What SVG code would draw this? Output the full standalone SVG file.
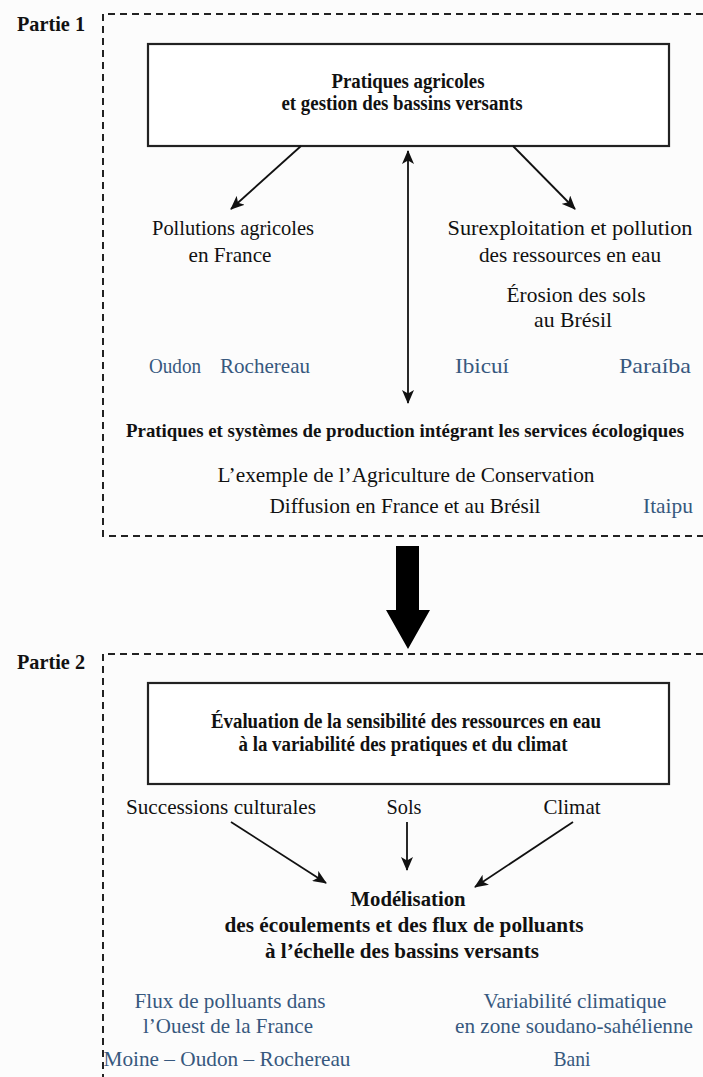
<svg xmlns="http://www.w3.org/2000/svg" width="703" height="1077" viewBox="0 0 703 1077">
<style>
text{font-family:"Liberation Serif","Times New Roman",serif;fill:#111}
.t{font-size:22px;text-anchor:middle}
.b{font-size:20px;font-weight:bold;text-anchor:middle}
.lbl{font-size:21px;font-weight:bold}
.s{text-anchor:start}
.blue{fill:#37587e}
.frame{fill:none;stroke:#222;stroke-width:2;stroke-dasharray:7 5}
.box{fill:#fff;stroke:#222;stroke-width:2.2}
.arr{stroke:#111;stroke-width:1.8;fill:none}
</style>
<defs>
<marker id="ah" viewBox="0 0 14 12" refX="13" refY="6" markerWidth="14" markerHeight="12" markerUnits="userSpaceOnUse" orient="auto-start-reverse">
<path d="M0,0 L14,6 L0,12 L3.5,6 Z" fill="#111"/>
</marker>
</defs>
<rect width="703" height="1077" fill="#fcfcfc"/>
<g id="partie1">
<path class="frame" d="M703,14 H103 V536 H703"/>
<text class="lbl" x="17" y="31" textLength="68" lengthAdjust="spacingAndGlyphs">Partie 1</text>
</g>
<g id="partie2">
<path class="frame" d="M703,654 H103 V1077"/>
<text class="lbl" x="17" y="669" textLength="68" lengthAdjust="spacingAndGlyphs">Partie 2</text>
</g>
<g id="box1">
<rect class="box" x="148" y="44" width="521" height="102"/>
<text class="b" x="408" y="88" textLength="153" lengthAdjust="spacingAndGlyphs">Pratiques agricoles</text>
<text class="b" x="402" y="110" textLength="241" lengthAdjust="spacingAndGlyphs">et gestion des bassins versants</text>
</g>
<g id="pollutions">
<text class="t" x="233" y="235" textLength="162" lengthAdjust="spacingAndGlyphs">Pollutions agricoles</text>
<text class="t" x="230" y="262" textLength="83" lengthAdjust="spacingAndGlyphs">en France</text>
</g>
<g id="surexploitation">
<text class="t" x="570" y="235" textLength="245" lengthAdjust="spacingAndGlyphs">Surexploitation et pollution</text>
<text class="t" x="570" y="262" textLength="182" lengthAdjust="spacingAndGlyphs">des ressources en eau</text>
</g>
<g id="erosion">
<text class="t" x="576" y="302" textLength="139" lengthAdjust="spacingAndGlyphs">Érosion des sols</text>
<text class="t" x="573" y="327" textLength="78" lengthAdjust="spacingAndGlyphs">au Brésil</text>
</g>
<g id="sites1">
<text class="t blue s" x="149" y="373" textLength="52" lengthAdjust="spacingAndGlyphs">Oudon</text>
<text class="t blue s" x="220" y="373" textLength="90" lengthAdjust="spacingAndGlyphs">Rochereau</text>
<text class="t blue" x="482" y="373" textLength="54" lengthAdjust="spacingAndGlyphs">Ibicuí</text>
<text class="t blue" x="655" y="373" textLength="72" lengthAdjust="spacingAndGlyphs">Paraíba</text>
</g>
<g id="pratiques">
<text class="b" x="405" y="437" style="font-size:19px" textLength="558" lengthAdjust="spacingAndGlyphs">Pratiques et systèmes de production intégrant les services écologiques</text>
<text class="t" x="406" y="482" textLength="377" lengthAdjust="spacingAndGlyphs">L’exemple de l’Agriculture de Conservation</text>
<text class="t" x="405" y="513" textLength="271" lengthAdjust="spacingAndGlyphs">Diffusion en France et au Brésil</text>
<text class="t blue" x="668" y="513" textLength="50" lengthAdjust="spacingAndGlyphs">Itaipu</text>
</g>
<g id="box2">
<rect class="box" x="148" y="683" width="521" height="101"/>
<text class="b" x="406" y="728" textLength="390" lengthAdjust="spacingAndGlyphs">Évaluation de la sensibilité des ressources en eau</text>
<text class="b" x="403" y="751" textLength="329" lengthAdjust="spacingAndGlyphs">à la variabilité des pratiques et du climat</text>
</g>
<g id="facteurs">
<text class="t" x="221" y="814" textLength="190" lengthAdjust="spacingAndGlyphs">Successions culturales</text>
<text class="t" x="404" y="814" textLength="35" lengthAdjust="spacingAndGlyphs">Sols</text>
<text class="t" x="572" y="814" textLength="57" lengthAdjust="spacingAndGlyphs">Climat</text>
</g>
<g id="modelisation">
<text class="b" x="408" y="906" textLength="115" lengthAdjust="spacingAndGlyphs">Modélisation</text>
<text class="b" x="404" y="932" textLength="359" lengthAdjust="spacingAndGlyphs">des écoulements et des flux de polluants</text>
<text class="b" x="402" y="958" textLength="274" lengthAdjust="spacingAndGlyphs">à l’échelle des bassins versants</text>
</g>
<g id="cas2">
<text class="t blue" x="230" y="1008" textLength="191" lengthAdjust="spacingAndGlyphs">Flux de polluants dans</text>
<text class="t blue" x="228" y="1033" textLength="170" lengthAdjust="spacingAndGlyphs">l’Ouest de la France</text>
<text class="t blue" x="227" y="1066" textLength="247" lengthAdjust="spacingAndGlyphs">Moine – Oudon – Rochereau</text>
<text class="t blue" x="575" y="1008" textLength="183" lengthAdjust="spacingAndGlyphs">Variabilité climatique</text>
<text class="t blue" x="574" y="1033" textLength="238" lengthAdjust="spacingAndGlyphs">en zone soudano-sahélienne</text>
<text class="t blue" x="572" y="1066" textLength="37" lengthAdjust="spacingAndGlyphs">Bani</text>
</g>
<g id="connectors">
<line class="arr" x1="301" y1="146" x2="231" y2="209" marker-end="url(#ah)"/>
<line class="arr" x1="513" y1="146" x2="575" y2="209" marker-end="url(#ah)"/>
<line class="arr" x1="408" y1="151" x2="408" y2="403" marker-start="url(#ah)" marker-end="url(#ah)"/>
<polygon points="396,546 419,546 419,610 430,610 408,649 386,610 396,610" fill="#000"/>
<line class="arr" x1="231" y1="822" x2="326" y2="883" marker-end="url(#ah)"/>
<line class="arr" x1="407" y1="822" x2="407" y2="870" marker-end="url(#ah)"/>
<line class="arr" x1="573" y1="822" x2="475" y2="887" marker-end="url(#ah)"/>
</g>
</svg>
